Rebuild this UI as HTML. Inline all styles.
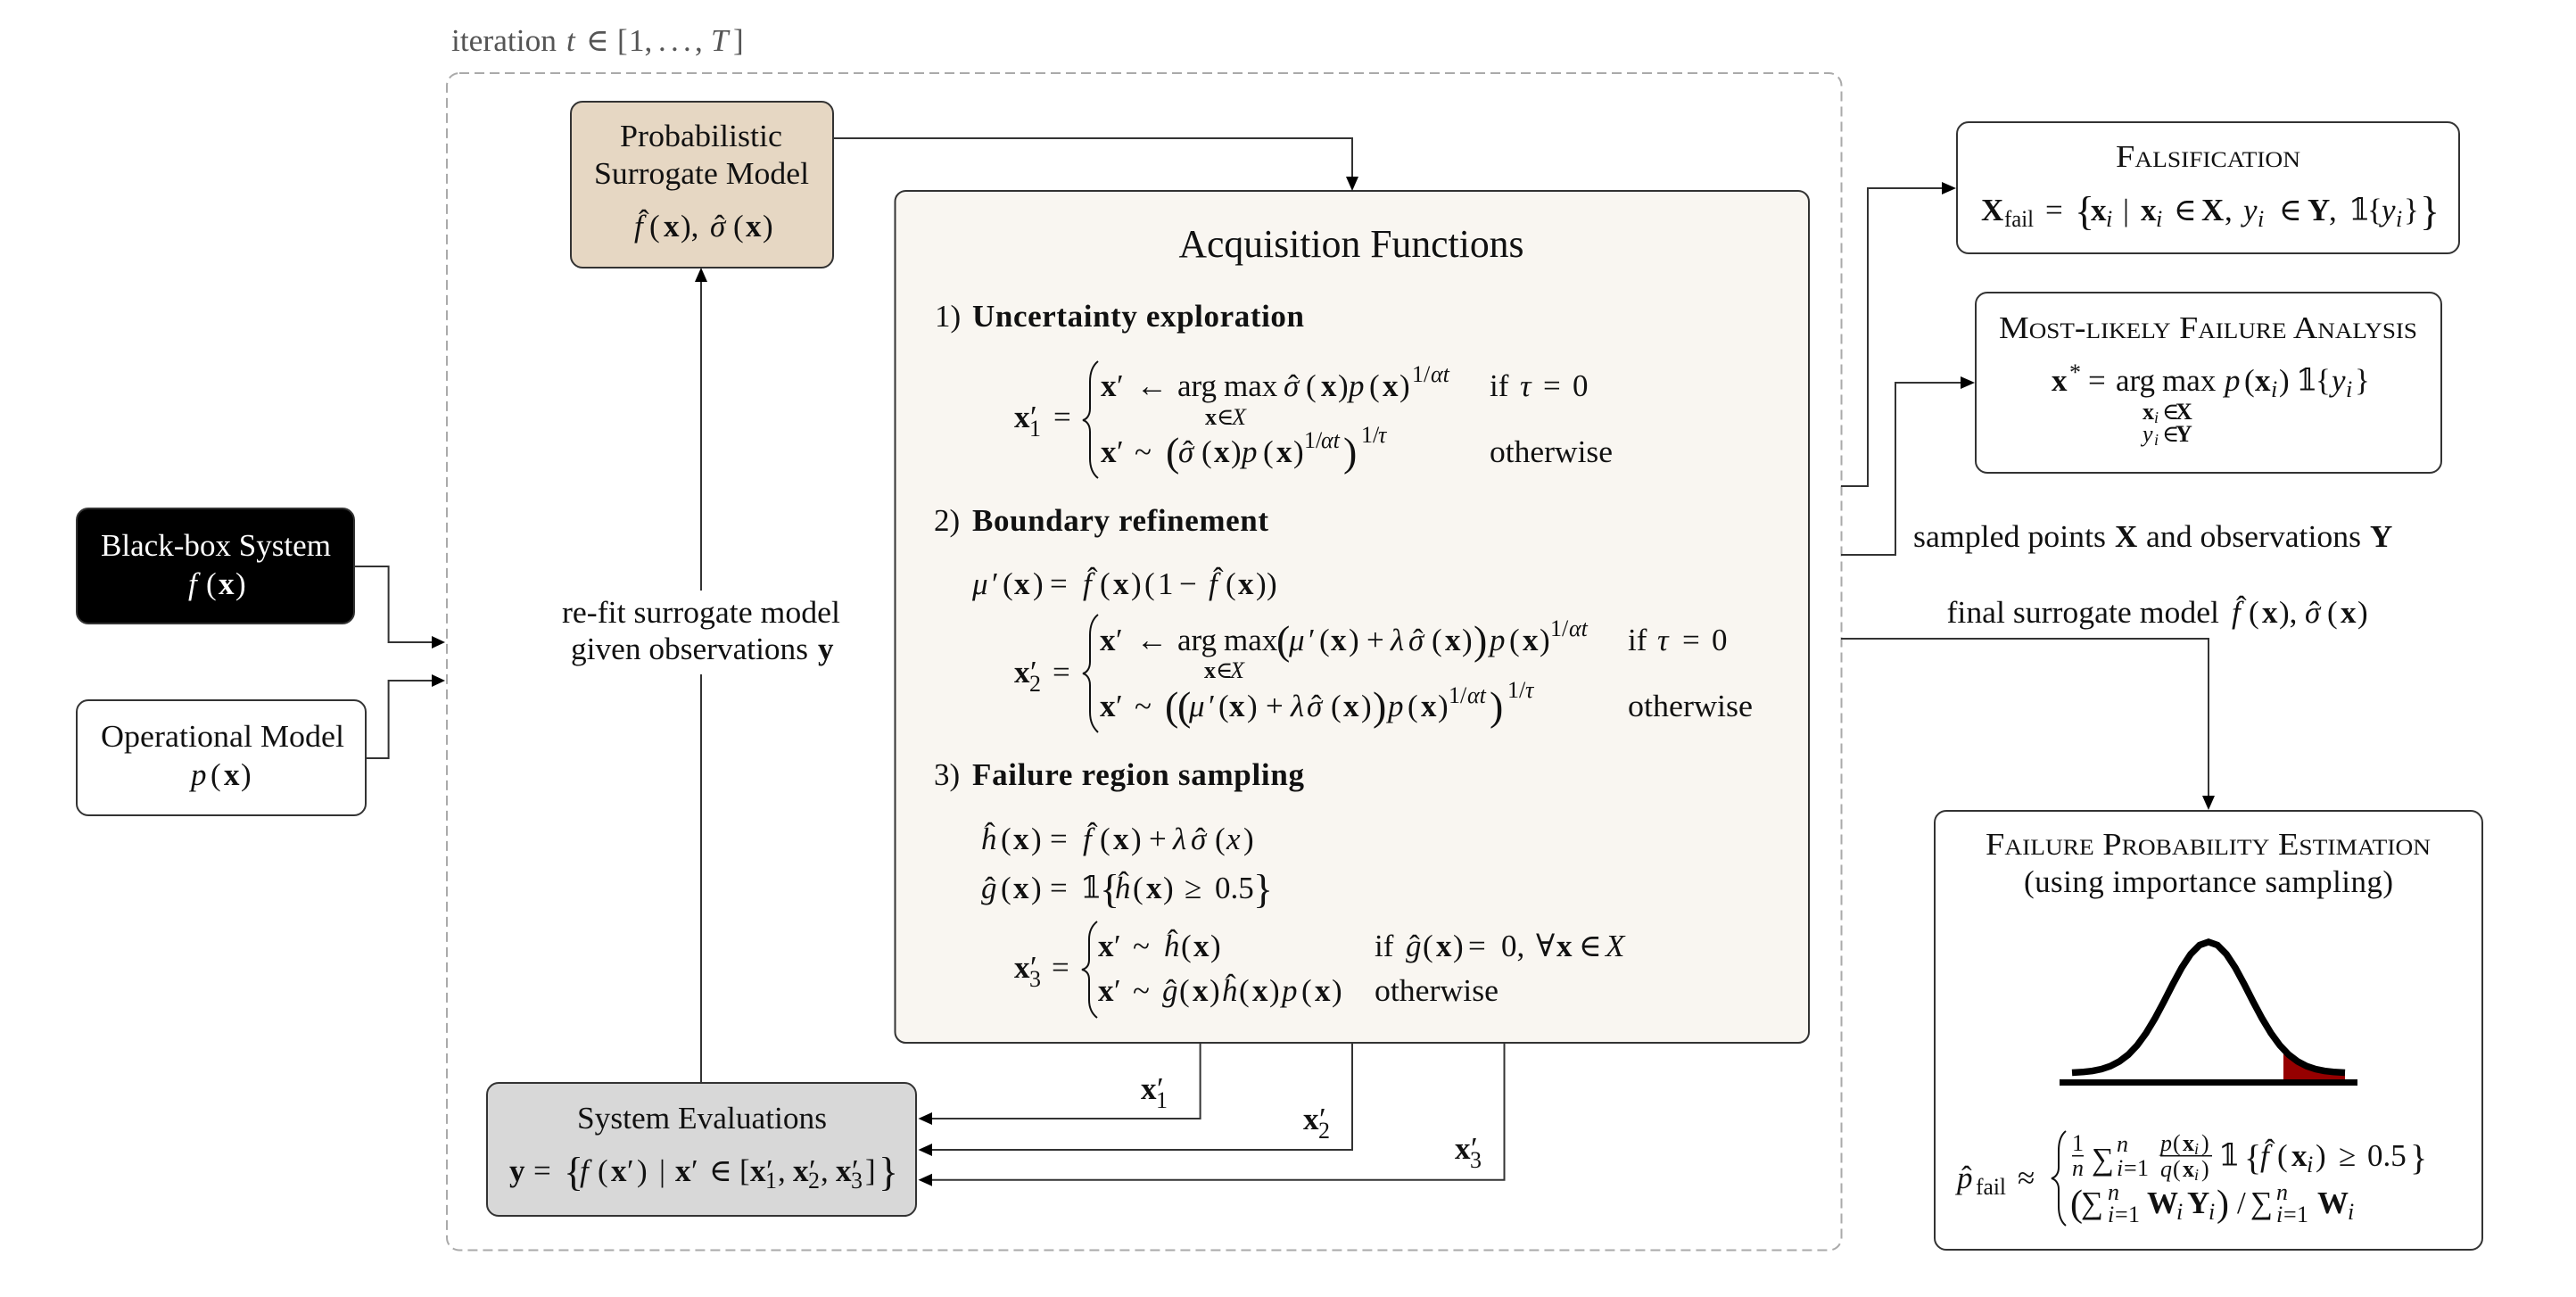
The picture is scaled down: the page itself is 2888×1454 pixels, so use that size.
<!DOCTYPE html>
<html lang="en"><head><meta charset="utf-8"><title>Diagram</title>
<style>
html,body{margin:0;padding:0;background:#fff}
svg{display:block}
text{font-family:"Liberation Serif","DejaVu Serif","DejaVu Sans",serif;font-size:35px;fill:#111;white-space:pre}
.i{font-style:italic}.b{font-weight:bold}
.s{font-size:26px}.si{font-size:26px;font-style:italic}.sb{font-size:26px;font-weight:bold}
.l{font-size:46px}
.sc{font-variant-caps:small-caps}
.ln{fill:none;stroke:#333;stroke-width:2}
.bx{stroke:#333;stroke-width:2}
.br{fill:none;stroke:#111;stroke-width:2}
</style></head><body>
<svg width="2888" height="1454" viewBox="0 0 2888 1454" xmlns="http://www.w3.org/2000/svg">
<rect width="2888" height="1454" fill="#fff"/>
<!-- iteration frame -->
<rect x="501" y="82" width="1563.5" height="1319.5" rx="14" fill="none" stroke="#aaa" stroke-width="2" stroke-dasharray="11 6"/>
<text y="57" style="fill:#555"><tspan x="506" textLength="118" lengthAdjust="spacingAndGlyphs">iteration</tspan><tspan x="635" class="i">t</tspan><tspan x="657">∈</tspan><tspan x="692">[</tspan><tspan x="705">1,</tspan><tspan x="738">.</tspan><tspan x="752">.</tspan><tspan x="766">.</tspan><tspan x="779">,</tspan><tspan x="797" class="i">T</tspan><tspan x="822">]</tspan></text>

<!-- boxes -->
<rect class="bx" x="640" y="114" width="294" height="186" rx="13" fill="#e6d7c3"/>
<rect class="bx" x="1003.500" y="214" width="1024.500" height="955" rx="12" fill="#f9f6f1"/>
<rect class="bx" x="546" y="1214" width="481" height="149" rx="13" fill="#d8d8d8"/>
<rect class="bx" x="86" y="570" width="311" height="129" rx="13" fill="#000"/>
<rect class="bx" x="86" y="785" width="324" height="129" rx="13" fill="#fff"/>
<rect class="bx" x="2194" y="137" width="563" height="147" rx="13" fill="#fff"/>
<rect class="bx" x="2215" y="328" width="522" height="202" rx="13" fill="#fff"/>
<rect class="bx" x="2169" y="909" width="614" height="492" rx="13" fill="#fff"/>

<!-- connectors -->
<path class="ln" d="M934 155H1516V200"/>
<path class="ln" d="M786 1214V756M786 662V315"/>
<path class="ln" d="M397 635H435.600V720H485"/>
<path class="ln" d="M410 850H435.600V763H485"/>
<path class="ln" d="M1345.600 1169V1254H1044"/>
<path class="ln" d="M1516 1169V1289H1044"/>
<path class="ln" d="M1686.500 1169V1322.700H1044"/>
<path class="ln" d="M2064 545H2094V211H2179"/>
<path class="ln" d="M2064 622H2125V429H2200"/>
<path class="ln" d="M2064 716H2476V894"/>
<g fill="#000">
<polygon points="1516,214 1509,198 1523,198"/>
<polygon points="786,300 779,316 793,316"/>
<polygon points="499,720 484,713 484,727"/>
<polygon points="499,763 484,756 484,770"/>
<polygon points="1029.500,1254 1045,1247 1045,1261"/>
<polygon points="1029.500,1289 1045,1282 1045,1296"/>
<polygon points="1029.500,1322.700 1045,1315.700 1045,1329.700"/>
<polygon points="2193,211 2177,204 2177,218"/>
<polygon points="2214,429 2198,422 2198,436"/>
<polygon points="2476,908 2469,892 2483,892"/>
</g>

<!-- Surrogate -->
<text x="695" y="164" textLength="182" lengthAdjust="spacingAndGlyphs">Probabilistic</text>
<text x="666" y="206" textLength="241" lengthAdjust="spacingAndGlyphs">Surrogate Model</text>
<text y="265"><tspan x="711" class="i">f</tspan><tspan x="728">(</tspan><tspan x="744" class="b">x</tspan><tspan x="763">),</tspan><tspan x="796" class="i">σ</tspan><tspan x="822">(</tspan><tspan x="836" class="b">x</tspan><tspan x="855">)</tspan></text>
<text x="716" y="259">ˆ</text><text x="801" y="265">ˆ</text>

<!-- label -->
<text x="630" y="698" textLength="312" lengthAdjust="spacingAndGlyphs">re-fit surrogate model</text>
<text y="739"><tspan x="640" textLength="266" lengthAdjust="spacingAndGlyphs">given observations</tspan><tspan x="917" class="b">y</tspan></text>

<!-- black box -->
<text x="113" y="623" textLength="258" lengthAdjust="spacingAndGlyphs" style="fill:#fff">Black-box System</text>
<text y="666" style="fill:#fff"><tspan x="211" class="i">f</tspan><tspan x="231">(</tspan><tspan x="245" class="b">x</tspan><tspan x="264">)</tspan></text>
<!-- operational -->
<text x="113" y="837" textLength="273" lengthAdjust="spacingAndGlyphs">Operational Model</text>
<text y="880"><tspan x="214" class="i">p</tspan><tspan x="236">(</tspan><tspan x="251" class="b">x</tspan><tspan x="270">)</tspan></text>

<!-- System evaluations -->
<text x="647" y="1265" textLength="280" lengthAdjust="spacingAndGlyphs">System Evaluations</text>
<text y="1324"><tspan x="571" class="b">y</tspan><tspan x="598">=</tspan><tspan x="632" y="1329" class="l">{</tspan><tspan x="650" y="1324" class="i">f</tspan><tspan x="670">(</tspan><tspan x="685" class="b">x</tspan><tspan x="703">′</tspan><tspan x="714">)</tspan><tspan x="739">|</tspan><tspan x="757" class="b">x</tspan><tspan x="775">′</tspan><tspan x="795">∈</tspan><tspan x="829">[</tspan><tspan x="841" class="b">x</tspan><tspan x="859">′</tspan><tspan x="858" y="1332" class="s">1</tspan><tspan x="872" y="1324">,</tspan><tspan x="889" class="b">x</tspan><tspan x="907">′</tspan><tspan x="906" y="1332" class="s">2</tspan><tspan x="920" y="1324">,</tspan><tspan x="937" class="b">x</tspan><tspan x="955">′</tspan><tspan x="954" y="1332" class="s">3</tspan><tspan x="970" y="1324">]</tspan><tspan x="985" y="1329" class="l">}</tspan></text>

<!-- Acquisition -->
<text x="1321.500" y="288" textLength="387" lengthAdjust="spacingAndGlyphs" style="font-size:44px">Acquisition Functions</text>
<text y="366"><tspan x="1048">1)</tspan><tspan x="1090" class="b" textLength="372" lengthAdjust="spacing">Uncertainty exploration</tspan></text>
<text y="595"><tspan x="1047">2)</tspan><tspan x="1090" class="b" textLength="332" lengthAdjust="spacing">Boundary refinement</tspan></text>
<text y="880"><tspan x="1047">3)</tspan><tspan x="1090" class="b" textLength="372" lengthAdjust="spacing">Failure region sampling</tspan></text>

<!-- eq 1 -->
<text y="479"><tspan x="1137" class="b">x</tspan><tspan x="1155">′</tspan><tspan x="1154" y="489" class="s">1</tspan><tspan x="1181" y="479">=</tspan></text>
<path class="br" d="M1231 405C1226 409 1222 416 1222 428V458C1222 466 1218 470 1214 471C1218 472 1222 476 1222 484V514C1222 526 1226 532 1231 536"/>
<text y="444"><tspan x="1234" class="b">x</tspan><tspan x="1252">′</tspan><tspan x="1274">←</tspan><tspan x="1320">arg</tspan><tspan x="1372">max</tspan><tspan x="1439" class="i">σ</tspan><tspan x="1464">(</tspan><tspan x="1481" class="b">x</tspan><tspan x="1500">)</tspan><tspan x="1512" class="i">p</tspan><tspan x="1535">(</tspan><tspan x="1550" class="b">x</tspan><tspan x="1569">)</tspan><tspan x="1583" y="428" class="s">1/</tspan><tspan x="1604" y="428" class="si">αt</tspan><tspan x="1670" y="444">if</tspan><tspan x="1704" class="i">τ</tspan><tspan x="1730">=</tspan><tspan x="1763">0</tspan></text>
<text x="1444" y="444">ˆ</text>
<text y="476"><tspan x="1351" class="sb">x</tspan><tspan x="1364" class="s">∈</tspan><tspan x="1381" class="si">X</tspan></text>
<text y="518"><tspan x="1234" class="b">x</tspan><tspan x="1252">′</tspan><tspan x="1272">~</tspan><tspan x="1307" y="522" class="l">(</tspan><tspan x="1321" y="518" class="i">σ</tspan><tspan x="1347">(</tspan><tspan x="1361" class="b">x</tspan><tspan x="1380">)</tspan><tspan x="1392" class="i">p</tspan><tspan x="1416">(</tspan><tspan x="1431" class="b">x</tspan><tspan x="1450">)</tspan><tspan x="1462" y="502" class="s">1/</tspan><tspan x="1481" y="502" class="si">αt</tspan><tspan x="1506" y="522" class="l">)</tspan><tspan x="1526" y="496" class="s">1/</tspan><tspan x="1545" y="496" class="si">τ</tspan><tspan x="1670" y="518" textLength="138" lengthAdjust="spacingAndGlyphs">otherwise</tspan></text>
<text x="1326" y="518">ˆ</text>

<!-- eq 2 -->
<text y="666"><tspan x="1090" class="i">μ</tspan><tspan x="1112">′</tspan><tspan x="1124">(</tspan><tspan x="1137" class="b">x</tspan><tspan x="1158">)</tspan><tspan x="1177">=</tspan><tspan x="1214" class="i">f</tspan><tspan x="1233">(</tspan><tspan x="1248" class="b">x</tspan><tspan x="1268">)</tspan><tspan x="1283">(</tspan><tspan x="1298">1</tspan><tspan x="1322">−</tspan><tspan x="1355" class="i">f</tspan><tspan x="1374">(</tspan><tspan x="1388" class="b">x</tspan><tspan x="1408">)</tspan><tspan x="1420">)</tspan></text>
<text x="1219" y="660">ˆ</text><text x="1360" y="660">ˆ</text>
<text y="765"><tspan x="1137" class="b">x</tspan><tspan x="1155">′</tspan><tspan x="1154" y="775" class="s">2</tspan><tspan x="1180" y="765">=</tspan></text>
<path class="br" d="M1231 689C1226 693 1222 700 1222 712V742C1222 750 1218 754 1214 755C1218 756 1222 760 1222 768V798C1222 810 1226 816 1231 821"/>
<text y="729"><tspan x="1233" class="b">x</tspan><tspan x="1251">′</tspan><tspan x="1274">←</tspan><tspan x="1320">arg</tspan><tspan x="1372">max</tspan><tspan x="1431" y="733" class="l">(</tspan><tspan x="1445" y="729" class="i">μ</tspan><tspan x="1467">′</tspan><tspan x="1479">(</tspan><tspan x="1492" class="b">x</tspan><tspan x="1512">)</tspan><tspan x="1532">+</tspan><tspan x="1559" class="i">λ</tspan><tspan x="1579" class="i">σ</tspan><tspan x="1605">(</tspan><tspan x="1620" class="b">x</tspan><tspan x="1639">)</tspan><tspan x="1652" y="733" class="l">)</tspan><tspan x="1670" y="729" class="i">p</tspan><tspan x="1692">(</tspan><tspan x="1707" class="b">x</tspan><tspan x="1726">)</tspan><tspan x="1738" y="713" class="s">1/</tspan><tspan x="1759" y="713" class="si">αt</tspan><tspan x="1825" y="729">if</tspan><tspan x="1858" class="i">τ</tspan><tspan x="1886">=</tspan><tspan x="1919">0</tspan></text>
<text x="1584" y="729">ˆ</text>
<text y="760"><tspan x="1350" class="sb">x</tspan><tspan x="1363" class="s">∈</tspan><tspan x="1379" class="si">X</tspan></text>
<text y="803"><tspan x="1233" class="b">x</tspan><tspan x="1251">′</tspan><tspan x="1272">~</tspan><tspan x="1306" y="807" class="l">(</tspan><tspan x="1320" y="807" class="l">(</tspan><tspan x="1333" y="803" class="i">μ</tspan><tspan x="1355">′</tspan><tspan x="1366">(</tspan><tspan x="1378" class="b">x</tspan><tspan x="1398">)</tspan><tspan x="1419">+</tspan><tspan x="1447" class="i">λ</tspan><tspan x="1465" class="i">σ</tspan><tspan x="1492">(</tspan><tspan x="1506" class="b">x</tspan><tspan x="1526">)</tspan><tspan x="1539" y="807" class="l">)</tspan><tspan x="1556" y="803" class="i">p</tspan><tspan x="1578">(</tspan><tspan x="1593" class="b">x</tspan><tspan x="1612">)</tspan><tspan x="1624" y="788" class="s">1/</tspan><tspan x="1645" y="788" class="si">αt</tspan><tspan x="1670" y="807" class="l">)</tspan><tspan x="1690" y="782" class="s">1/</tspan><tspan x="1710" y="782" class="si">τ</tspan><tspan x="1825" y="803" textLength="140" lengthAdjust="spacingAndGlyphs">otherwise</tspan></text>
<text x="1470" y="803">ˆ</text>

<!-- eq 3 -->
<text y="952"><tspan x="1100" class="i">h</tspan><tspan x="1122">(</tspan><tspan x="1136" class="b">x</tspan><tspan x="1156">)</tspan><tspan x="1177">=</tspan><tspan x="1214" class="i">f</tspan><tspan x="1233">(</tspan><tspan x="1248" class="b">x</tspan><tspan x="1268">)</tspan><tspan x="1288">+</tspan><tspan x="1315" class="i">λ</tspan><tspan x="1335" class="i">σ</tspan><tspan x="1362">(</tspan><tspan x="1375" class="i">x</tspan><tspan x="1394">)</tspan></text>
<text x="1104" y="946">ˆ</text><text x="1219" y="946">ˆ</text><text x="1340" y="952">ˆ</text>
<text y="1007"><tspan x="1100" class="i">g</tspan><tspan x="1122">(</tspan><tspan x="1136" class="b">x</tspan><tspan x="1156">)</tspan><tspan x="1177">=</tspan><tspan x="1211">𝟙</tspan><tspan x="1233" y="1012" class="l">{</tspan><tspan x="1250" y="1007" class="i">h</tspan><tspan x="1270">(</tspan><tspan x="1285" class="b">x</tspan><tspan x="1304">)</tspan><tspan x="1328">≥</tspan><tspan x="1362">0.5</tspan><tspan x="1405" y="1012" class="l">}</tspan></text>
<text x="1104" y="1007">ˆ</text><text x="1254" y="1001">ˆ</text>
<text y="1096"><tspan x="1137" class="b">x</tspan><tspan x="1155">′</tspan><tspan x="1154" y="1106" class="s">3</tspan><tspan x="1179" y="1096">=</tspan></text>
<path class="br" d="M1230 1033C1225 1037 1221 1043 1221 1053V1076C1221 1083 1217 1086 1213 1087C1217 1088 1221 1091 1221 1098V1121C1221 1131 1225 1137 1230 1141"/>
<text y="1072"><tspan x="1231" class="b">x</tspan><tspan x="1249">′</tspan><tspan x="1270">~</tspan><tspan x="1305" class="i">h</tspan><tspan x="1324">(</tspan><tspan x="1338" class="b">x</tspan><tspan x="1357">)</tspan><tspan x="1541">if</tspan><tspan x="1576" class="i">g</tspan><tspan x="1595">(</tspan><tspan x="1610" class="b">x</tspan><tspan x="1629">)</tspan><tspan x="1646">=</tspan><tspan x="1683">0,</tspan><tspan x="1722">∀</tspan><tspan x="1745" class="b">x</tspan><tspan x="1770">∈</tspan><tspan x="1800" class="i">X</tspan></text>
<text x="1309" y="1066">ˆ</text><text x="1580" y="1072">ˆ</text>
<text y="1122"><tspan x="1231" class="b">x</tspan><tspan x="1249">′</tspan><tspan x="1270">~</tspan><tspan x="1303" class="i">g</tspan><tspan x="1322">(</tspan><tspan x="1337" class="b">x</tspan><tspan x="1356">)</tspan><tspan x="1370" class="i">h</tspan><tspan x="1389">(</tspan><tspan x="1404" class="b">x</tspan><tspan x="1423">)</tspan><tspan x="1437" class="i">p</tspan><tspan x="1459">(</tspan><tspan x="1474" class="b">x</tspan><tspan x="1493">)</tspan><tspan x="1541" textLength="139" lengthAdjust="spacingAndGlyphs">otherwise</tspan></text>
<text x="1307" y="1122">ˆ</text><text x="1374" y="1116">ˆ</text>

<!-- connector labels -->
<text y="1232"><tspan x="1279" class="b">x</tspan><tspan x="1297">′</tspan><tspan x="1296" y="1242" class="s">1</tspan></text>
<text y="1266"><tspan x="1461" class="b">x</tspan><tspan x="1479">′</tspan><tspan x="1478" y="1276" class="s">2</tspan></text>
<text y="1299"><tspan x="1631" class="b">x</tspan><tspan x="1649">′</tspan><tspan x="1648" y="1309" class="s">3</tspan></text>

<!-- Falsification -->
<text class="sc" x="2372" y="187" textLength="207" lengthAdjust="spacingAndGlyphs">Falsification</text>
<text y="247"><tspan x="2221" class="b">X</tspan><tspan x="2247" y="254" class="s" textLength="33" lengthAdjust="spacingAndGlyphs">fail</tspan><tspan x="2293" y="247">=</tspan><tspan x="2326" y="252" class="l">{</tspan><tspan x="2344" y="247" class="b">x</tspan><tspan x="2361" y="254" class="si">i</tspan><tspan x="2380" y="247">|</tspan><tspan x="2400" class="b">x</tspan><tspan x="2417" y="254" class="si">i</tspan><tspan x="2437" y="247">∈</tspan><tspan x="2468" class="b">X</tspan><tspan x="2494">,</tspan><tspan x="2515" class="i">y</tspan><tspan x="2531" y="254" class="si">i</tspan><tspan x="2555" y="247">∈</tspan><tspan x="2587" class="b">Y</tspan><tspan x="2611">,</tspan><tspan x="2633">𝟙</tspan><tspan x="2654">{</tspan><tspan x="2670" class="i">y</tspan><tspan x="2686" y="254" class="si">i</tspan><tspan x="2695" y="247">}</tspan><tspan x="2713" y="252" class="l">}</tspan></text>

<!-- MLFA -->
<text class="sc" x="2241" y="379" textLength="469" lengthAdjust="spacingAndGlyphs">Most-likely Failure Analysis</text>
<text y="438"><tspan x="2300" class="b">x</tspan><tspan x="2320" y="426" class="s">*</tspan><tspan x="2341" y="438">=</tspan><tspan x="2372">arg</tspan><tspan x="2424">max</tspan><tspan x="2494" class="i">p</tspan><tspan x="2516">(</tspan><tspan x="2528" class="b">x</tspan><tspan x="2546" y="445" class="si">i</tspan><tspan x="2555" y="438">)</tspan><tspan x="2574">𝟙</tspan><tspan x="2596">{</tspan><tspan x="2614" class="i">y</tspan><tspan x="2630" y="445" class="si">i</tspan><tspan x="2640" y="438">}</tspan></text>
<text y="470"><tspan x="2402" class="sb">x</tspan><tspan x="2415" y="474" style="font-size:18px;font-style:italic">i</tspan><tspan x="2424" y="470" class="s">∈</tspan><tspan x="2439" class="sb">X</tspan></text>
<text y="495"><tspan x="2402" class="si">y</tspan><tspan x="2415" y="499" style="font-size:18px;font-style:italic">i</tspan><tspan x="2424" y="495" class="s">∈</tspan><tspan x="2439" class="sb">Y</tspan></text>

<!-- side labels -->
<text y="613"><tspan x="2145" textLength="216" lengthAdjust="spacingAndGlyphs">sampled points</tspan><tspan x="2371" class="b">X</tspan><tspan x="2406" textLength="241" lengthAdjust="spacingAndGlyphs">and observations</tspan><tspan x="2657" class="b">Y</tspan></text>
<text y="698"><tspan x="2182.500" textLength="305.500" lengthAdjust="spacingAndGlyphs">final surrogate model</tspan><tspan x="2502" class="i">f</tspan><tspan x="2521">(</tspan><tspan x="2536" class="b">x</tspan><tspan x="2555">),</tspan><tspan x="2584" class="i">σ</tspan><tspan x="2609">(</tspan><tspan x="2624" class="b">x</tspan><tspan x="2643">)</tspan></text>
<text x="2507" y="692">ˆ</text><text x="2589" y="698">ˆ</text>

<!-- FPE -->
<text class="sc" x="2226" y="958" textLength="499" lengthAdjust="spacingAndGlyphs">Failure Probability Estimation</text>
<text x="2269" y="1000" textLength="414" lengthAdjust="spacing">(using importance sampling)</text>
<polygon points="2560,1176 2566,1182.400 2576,1190 2586,1195.200 2596,1198.500 2606,1200.600 2616,1201.700 2629,1202.500 2629,1212 2560,1212" fill="#960000"/>
<polyline fill="none" stroke="#000" stroke-width="7.500" points="2323,1202.500 2336,1201.700 2346,1200.600 2356,1198.500 2366,1195.200 2376,1190 2386,1182.400 2396,1171.900 2406,1158.200 2416,1141.600 2426,1122.900 2436,1103.300 2446,1084.800 2456,1069.600 2466,1059.500 2476,1056 2486,1059.500 2496,1069.600 2506,1084.800 2516,1103.300 2526,1122.900 2536,1141.600 2546,1158.200 2556,1171.900 2566,1182.400 2576,1190 2586,1195.200 2596,1198.500 2606,1200.600 2616,1201.700 2629,1202.500"/>
<rect x="2309" y="1210" width="334" height="7" fill="#000"/>

<text y="1332"><tspan x="2194" class="i">p</tspan><tspan x="2215" y="1339" class="s" textLength="34" lengthAdjust="spacingAndGlyphs">fail</tspan><tspan x="2262" y="1332">≈</tspan></text>
<text x="2199" y="1331">ˆ</text>
<path class="br" d="M2316 1268C2311 1272 2308 1279 2308 1290V1309C2308 1316 2304 1320 2300 1321C2304 1322 2308 1326 2308 1333V1352C2308 1363 2311 1370 2316 1374"/>
<text x="2323" y="1290" class="s">1</text><rect x="2323" y="1295" width="13" height="1.500" fill="#111"/><text x="2323" y="1318" class="si">n</text>
<text y="1311"><tspan x="2345">∑</tspan></text>
<text x="2373" y="1291" class="si">n</text>
<text y="1318"><tspan x="2373" class="si">i</tspan><tspan x="2381" class="s">=</tspan><tspan x="2396" class="s">1</tspan></text>
<text y="1290"><tspan x="2422" class="si">p</tspan><tspan x="2436" class="s">(</tspan><tspan x="2447" class="sb">x</tspan><tspan x="2460" y="1294" style="font-size:18px;font-style:italic">i</tspan><tspan x="2468" y="1290" class="s">)</tspan></text>
<rect x="2422" y="1295" width="58" height="1.500" fill="#111"/>
<text y="1319"><tspan x="2422" class="si">q</tspan><tspan x="2436" class="s">(</tspan><tspan x="2447" class="sb">x</tspan><tspan x="2460" y="1323" style="font-size:18px;font-style:italic">i</tspan><tspan x="2468" y="1319" class="s">)</tspan></text>
<text y="1307"><tspan x="2487">𝟙</tspan><tspan x="2516" y="1311" class="l" style="font-size:40px">{</tspan><tspan x="2534" y="1307" class="i">f</tspan><tspan x="2553">(</tspan><tspan x="2569" class="b">x</tspan><tspan x="2586" y="1314" class="si">i</tspan><tspan x="2596" y="1307">)</tspan><tspan x="2622">≥</tspan><tspan x="2654">0.5</tspan><tspan x="2702" y="1311" class="l" style="font-size:40px">}</tspan></text>
<text x="2539" y="1301">ˆ</text>
<text y="1360"><tspan x="2321" y="1363" style="font-size:42px">(</tspan><tspan x="2333" y="1360">∑</tspan><tspan x="2407" class="b">W</tspan><tspan x="2440" y="1367" class="si">i</tspan><tspan x="2452" y="1360" class="b">Y</tspan><tspan x="2476" y="1367" class="si">i</tspan><tspan x="2485" y="1363" style="font-size:42px">)</tspan><tspan x="2508" y="1360">/</tspan><tspan x="2523">∑</tspan><tspan x="2598" class="b">W</tspan><tspan x="2632" y="1367" class="si">i</tspan></text>
<text x="2363" y="1345" class="si">n</text>
<text y="1370"><tspan x="2363" class="si">i</tspan><tspan x="2371" class="s">=</tspan><tspan x="2386" class="s">1</tspan></text>
<text x="2552" y="1345" class="si">n</text>
<text y="1370"><tspan x="2552" class="si">i</tspan><tspan x="2560" class="s">=</tspan><tspan x="2575" class="s">1</tspan></text>
</svg>
</body></html>
